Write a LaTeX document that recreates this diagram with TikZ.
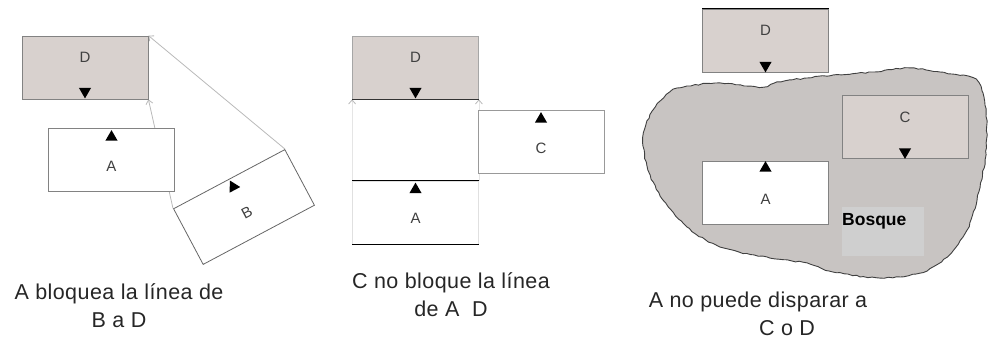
\documentclass[tikz,border=0pt]{standalone}
\usepackage{fontspec}
\setmainfont{Liberation Sans}
\usetikzlibrary{arrows.meta,backgrounds,calc,shapes.geometric,decorations.pathmorphing}

\definecolor{targetfill}{RGB}{216,209,206}
\definecolor{forestfill}{RGB}{200,196,194}
\definecolor{tagfill}{RGB}{207,207,207}
\definecolor{boxline}{RGB}{130,130,130}
\definecolor{sightline}{RGB}{185,185,185}

\tikzset{
    unitbox/.style={rectangle, draw=boxline, line width=0.8pt, minimum width=126pt, minimum height=63pt, inner sep=0pt},
    target/.style={unitbox, fill=targetfill},
    shooter/.style={unitbox, fill=white},
    facing/.style={regular polygon, regular polygon sides=3, fill=black, inner sep=0pt, minimum size=14pt},
    facingup/.style={facing},
    facingdown/.style={facing, shape border rotate=180},
    letter/.style={font=\fontsize{15}{15}\selectfont, text=black!75, inner sep=0pt},
    caption/.style={align=center, text=black!85, font=\fontsize{21.5}{28}\selectfont\addfontfeature{LetterSpace=2}},
    los/.style={draw=sightline, line width=0.8pt, -{Straight Barb[length=4pt,width=7pt]}}
}

\begin{document}
\begin{tikzpicture}[x=1pt, y=-1pt]
\useasboundingbox (0,0) rectangle (989,343);

% panel 1: A blocks B to D
\node[target] (d1) at (85,67.5) {};
\node[letter] (d1l) at ([yshift=10pt]d1.center) {D};
\node[facingdown] (d1f) at ([yshift=8pt]d1.south) {};
\node[shooter] (a1) at (111.5,160) {};
\node[facingup] (a1f) at ([yshift=-9pt]a1.north) {};
\node[letter] (a1l) at ([yshift=-6pt]a1.center) {A};
\node[shooter, draw=black!60, rotate=28] (b1) at (244,207) {};
\node[facingup, shape border rotate=28] (b1f) at ($(b1.north)!9pt!(b1.center)$) {};
\node[letter, rotate=28] (b1l) at ($(b1.center)!6pt!(b1.south)$) {B};
\begin{scope}[on background layer]
    \draw[los] (b1.north west) -- (d1.south east);
    \draw[los] (b1.north east) -- (d1.north east);
\end{scope}
\node[caption] (cap1) at (119,306) {A bloquea la línea de\\B a D};

% panel 2: C does not block A to D
\node[target, draw=black!35] (d2) at (415.5,67.5) {};
\draw[black!80, line width=0.9pt] (d2.south west) -- (d2.south east);
\node[letter] (d2l) at ([yshift=10pt]d2.center) {D};
\node[facingdown] (d2f) at ([yshift=8pt]d2.south) {};
\node[shooter, draw=black!12] (a2) at (415.5,212.5) {};
\draw[black, line width=1pt] (a2.north west) -- (a2.north east);
\draw[black, line width=1pt] (a2.south west) -- (a2.south east);
\node[facingup] (a2f) at ([yshift=-9pt]a2.north) {};
\node[letter] (a2l) at ([yshift=-6pt]a2.center) {A};
\node[shooter, draw=black!40] (c2) at (541,142) {};
\node[facingup] (c2f) at ([yshift=-9pt]c2.north) {};
\node[letter] (c2l) at ([yshift=-6pt]c2.center) {C};
\begin{scope}[on background layer]
    \draw[los, draw=black!10, {Straight Barb[length=4pt,width=7pt,color=sightline]}-] (d2.south west) -- (a2.north west);
    \draw[los, draw=black!10, {Straight Barb[length=4pt,width=7pt,color=sightline]}-] (d2.south east) -- (a2.north east);
\end{scope}
\node[caption] (cap2) at (451,295) {C no bloque la línea\\de A\ \ D};

% panel 3: the forest hides C and D
\draw[fill=forestfill, draw=black!75, line width=0.9pt,
      decorate, decoration={random steps, segment length=4pt, amplitude=0.7pt}]
    plot[smooth cycle, tension=0.5] coordinates {
    (643,137) (653,110) (670,92) (687,86) (720,83) (747,86) (763,87) (777,82)
    (807,78) (833,75) (873,72) (910,68) (940,72) (973,78) (983,93) (987,123)
    (985,160) (977,200) (967,230) (947,257) (920,273) (880,278) (833,272)
    (807,263) (770,258) (720,247) (687,227) (663,200) (648,170)};
\node[target] (d3) at (765.5,40.5) {};
\draw[black, line width=1pt] (d3.north west) -- (d3.north east);
\node[letter] (d3l) at ([yshift=10pt]d3.center) {D};
\node[facingdown] (d3f) at ([yshift=7pt]d3.south) {};
\node[target] (c3) at (905,127) {};
\node[letter] (c3l) at ([yshift=10pt]c3.center) {C};
\node[facingdown] (c3f) at ([yshift=7pt]c3.south) {};
\node[shooter] (a3) at (765.5,193) {};
\node[facingup] (a3f) at ([yshift=-7pt]a3.north) {};
\node[letter] (a3l) at ([yshift=-6pt]a3.center) {A};
\node[fill=tagfill, minimum width=82pt, minimum height=49pt, inner sep=0pt, anchor=north west] (tag) at (842,207) {};
\node[anchor=north west, inner sep=0pt, font=\fontsize{17.5}{17.5}\selectfont\bfseries] (bosque) at ([yshift=-6pt]tag.north west) {Bosque};
\node[caption] (cap3) at (758,314) {A no puede disparar a\\\hspace*{58pt}C o D};
\end{tikzpicture}
\end{document}
